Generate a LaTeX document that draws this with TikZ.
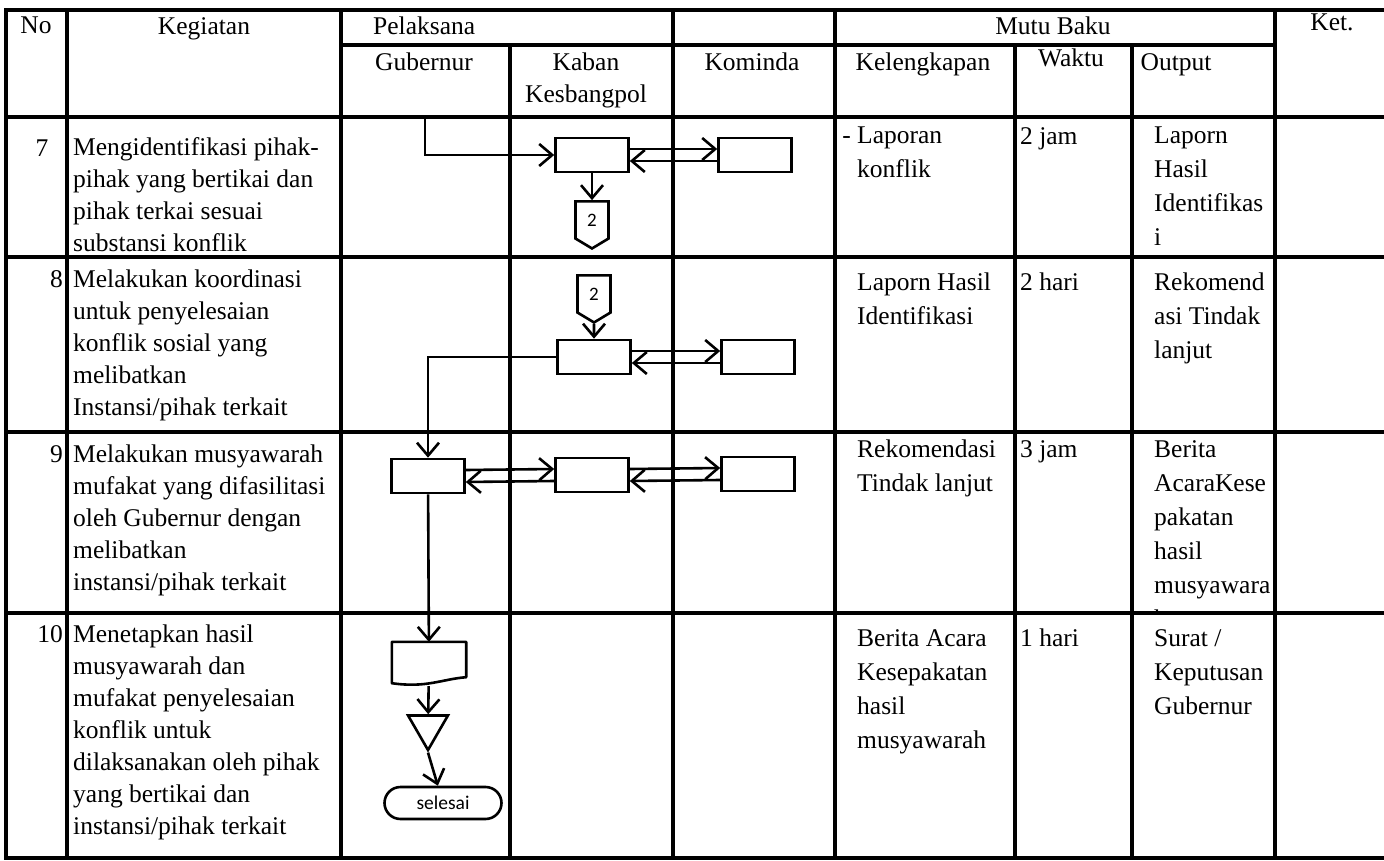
\documentclass[tikz,border=0pt]{standalone}
\usepackage{fontspec}
\setmainfont{Liberation Serif}
\newfontfamily\flowfont{Carlito}
\usetikzlibrary{positioning, arrows.meta, shapes.geometric, shapes.symbols}
\newcommand{\cellfont}{\fontsize{25.5}{32}\selectfont}
\newcommand{\mutufont}{\fontsize{25.5}{34}\selectfont}
\tikzset{
grid/.style={line width=4pt, line cap=rect}, % the rules of the table
cell/.style={anchor=north west, inner sep=0pt, align=left, font=\cellfont}, % text in a cell
mutu/.style={cell, font=\mutufont}, % text of the Mutu Baku columns
head/.style={anchor=north, inner sep=0pt, align=center, font=\cellfont}, % header labels
num/.style={anchor=north east, inner sep=0pt, font=\cellfont}, % row numbers
proc/.style={draw, line width=2.6pt, minimum width=73pt, minimum height=34pt, inner sep=0pt}, % process boxes
conn/.style={draw, line width=2.6pt, signal, signal to=south, signal pointer angle=118, minimum width=33pt, minimum height=40pt, inner sep=0pt, font=\flowfont\fontsize{19}{19}\selectfont}, % off-page connector
tri/.style={draw, line width=2.6pt, regular polygon, regular polygon sides=3, shape border rotate=180, minimum size=46pt, inner sep=0pt}, % archive triangle
term/.style={draw, line width=2.6pt, rounded corners=16pt, minimum width=117pt, minimum height=32pt, inner sep=0pt, font=\flowfont\fontsize{19.5}{19.5}\selectfont}, % end symbol
flow/.style={line width=2.6pt, -{Straight Barb[length=13pt, width=22pt]}}, % connectors
}

\begin{document}
\begin{tikzpicture}[x=1pt, y=-1pt]
    \fill[white] (0,0) rectangle (1384,861);
    \useasboundingbox (0,0) rectangle (1384,861);
    % table rules
    \draw[grid] (6,10) -- (1384,10);
    \draw[grid] (341,45) -- (1275,45);
    \foreach \y in {117,257,432,613,858}
        \draw[grid] (6,\y) -- (1384,\y);
    \foreach \x in {6,67,341,673,835,1275}
        \draw[grid] (\x,10) -- (\x,858);
    \foreach \x in {510,1015,1132}
        \draw[grid] (\x,45) -- (\x,858);

    % header
    \node[head] (hno) at (36,17) {No};
    \node[head] (hkeg) at (204,17) {Kegiatan};
    \node[cell] (hpel) at (373,17) {Pelaksana};
    \node[head] (hmutu) at (1053,17) {Mutu Baku};
    \node[head] (hket) at (1332,14) {Ket.};
    \node[head] (hgub) at (424,53) {Gubernur};
    \node[head] (hkab) at (586,53) {Kaban\\Kesbangpol};
    \node[head] (hkom) at (752,53) {Kominda};
    \node[head] (hkel) at (923,53) {Kelengkapan};
    \node[head] (hwak) at (1071,49) {Waktu};
    \node[head] (hout) at (1176,53) {Output};

    % No and Kegiatan
    \node[head] (n7) at (42,140) {7};
    \node[num] (n8) at (63,270) {8};
    \node[num] (n9) at (63,445) {9};
    \node[num] (n10) at (63,625) {10};
    \node[cell] (k7) at (73,137) {Mengidentifikasi pihak-\\pihak yang bertikai dan\\pihak terkai sesuai\\substansi konflik};
    \node[cell] (k8) at (73,270) {Melakukan koordinasi\\untuk penyelesaian\\konflik sosial yang\\melibatkan\\Instansi/pihak terkait};
    \node[cell] (k9) at (73,445) {Melakukan musyawarah\\mufakat yang difasilitasi\\oleh Gubernur dengan\\melibatkan\\instansi/pihak terkait};
    \node[cell] (k10) at (73,625) {Menetapkan hasil\\musyawarah dan\\mufakat penyelesaian\\konflik untuk\\dilaksanakan oleh pihak\\yang bertikai dan\\instansi/pihak terkait};

    % Mutu Baku
    \node[mutu] (kel7) at (857,127) {\llap{- }Laporan\\konflik};
    \node[mutu] (wak7) at (1020,127) {2 jam};
    \node[mutu] (out7) at (1154,127) {Laporn\\Hasil\\Identifikas\\i};
    \node[mutu] (kel8) at (857,273) {Laporn Hasil\\Identifikasi};
    \node[mutu] (wak8) at (1020,273) {2 hari};
    \node[mutu] (out8) at (1154,273) {Rekomend\\asi Tindak\\lanjut};
    \node[mutu] (kel9) at (857,440) {Rekomendasi\\Tindak lanjut};
    \node[mutu] (wak9) at (1020,440) {3 jam};
    \begin{scope}
        \clip (1132,432) rectangle (1275,613);
        \node[mutu] (out9) at (1154,440) {Berita\\AcaraKese\\pakatan\\hasil\\musyawara\\h};
    \end{scope}
    \node[mutu] (kel10) at (857,629) {Berita Acara\\Kesepakatan\\hasil\\musyawarah};
    \node[mutu] (wak10) at (1020,629) {1 hari};
    \node[mutu] (out10) at (1154,629) {Surat /\\Keputusan\\Gubernur};

    % flow
    \coordinate (gub7) at (425,117);
    \node[proc] (kab7) at (592,155) {};
    \node[proc] (kom7) at (755,155) {};
    \node[conn] (con7) at (592,220) {2};
    \node[conn] (con8) at (594,294) {2};
    \node[proc] (kab8) at (594,357) {};
    \node[proc] (kom8) at (758,357) {};
    \node[proc] (gub9) at (428,476) {};
    \node[proc] (kab9) at (592,475) {};
    \node[proc] (kom9) at (758,474) {};
    \node[minimum width=74pt, minimum height=44pt, inner sep=0pt] (doc10) at (429,664) {};
    \draw[line width=2.6pt, line join=round] (doc10.north west) -- (doc10.north east) -- ([yshift=9pt]doc10.south east)
        .. controls ([xshift=-25pt,yshift=7pt]doc10.south east) and ([xshift=35pt,yshift=-2pt]doc10.south west) .. ([yshift=3pt]doc10.south west) -- cycle;
    \node[tri] (tri10) at (428,727) {};
    \node[term] (end10) at (443,803) {selesai};

    \draw[flow] (gub7) |- (kab7);
    \draw[flow] ([yshift=6pt]kab7.east) -- ([yshift=6pt]kom7.west);
    \draw[flow] ([yshift=-6pt]kom7.west) -- ([yshift=-6pt]kab7.east);
    \draw[flow] (kab7) -- (con7);
    \draw[flow] (con8) -- (kab8);
    \draw[flow] ([yshift=6pt]kab8.east) -- ([yshift=6pt]kom8.west);
    \draw[flow] ([yshift=-6pt]kom8.west) -- ([yshift=-6pt]kab8.east);
    \draw[flow] (kab8.west) -| (gub9);
    \draw[flow] ([yshift=6pt]gub9.east) -- ([yshift=6pt]kab9.west);
    \draw[flow] ([yshift=-6pt]kab9.west) -- ([yshift=-6pt]gub9.east);
    \draw[flow] ([yshift=6pt]kab9.east) -- ([yshift=6pt]kom9.west);
    \draw[flow] ([yshift=-6pt]kom9.west) -- ([yshift=-6pt]kab9.east);
    \draw[flow] (gub9) -- (doc10);
    \draw[flow] (doc10) -- (tri10);
    \draw[flow] (tri10.corner 1) -- (end10);
\end{tikzpicture}
\end{document}
